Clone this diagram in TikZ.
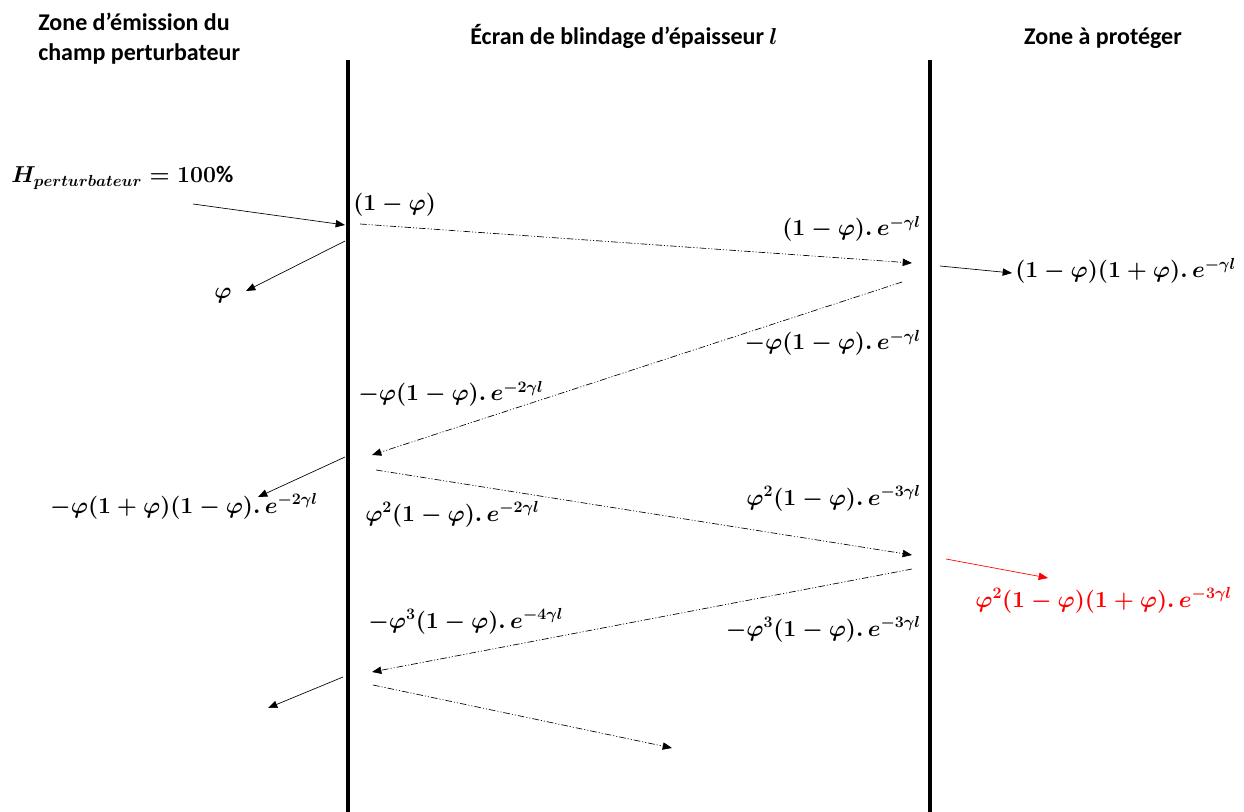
\documentclass[tikz,border=0pt]{standalone}
\usepackage{fontspec}
\setmainfont{Carlito}
\usetikzlibrary{arrows.meta}
\begin{document}
\begin{tikzpicture}[x=0.75pt,y=-0.75pt,
  wall/.style={line width=3pt},
  hdr/.style={font=\fontsize{18}{21}\selectfont\bfseries, inner sep=0pt},
  lab/.style={font=\fontsize{17.7}{20}\selectfont\boldmath, inner sep=0pt},
  ray/.style={line width=0.5pt, -{Triangle[length=7pt,width=5.5pt]}},
  wave/.style={ray, dash pattern=on 5pt off 1.5pt on 0.8pt off 1.5pt on 0.8pt off 1.5pt}]
\useasboundingbox (0,0) rectangle (1244,812);
% walls
\draw[wall] (348,60) -- (348,812);
\draw[wall] (930,60) -- (930,812);
% headers
\node[hdr, anchor=base west] (h1a) at (38,31) {Zone d’émission du};
\node[hdr, anchor=base west] (h1b) at (38,61) {champ perturbateur};
\node[hdr, anchor=base] (h2) at (624,45) {Écran de blindage d’épaisseur {\boldmath$l$}};
\node[hdr, anchor=base] (h3) at (1103,45) {Zone à protéger};
% labels
\node[lab, anchor=base west] (hp) at (11,183) {$H_{perturbateur}=\mathbf{100}\%$};
\node[lab, anchor=base west] (t0) at (353,211) {$(1-\varphi)$};
\node[lab, anchor=base] (r0) at (223,299) {$\varphi$};
\node[lab, anchor=base east] (a1) at (921,236) {$(1-\varphi).\,e^{-\gamma l}$};
\node[lab, anchor=base west] (tr1) at (1015,278) {$(1-\varphi)(1+\varphi).\,e^{-\gamma l}$};
\node[lab, anchor=base east] (b1) at (921,350) {$-\varphi(1-\varphi).\,e^{-\gamma l}$};
\node[lab, anchor=base west] (b2) at (358,401) {$-\varphi(1-\varphi).\,e^{-2\gamma l}$};
\node[lab, anchor=base east] (rf2) at (318,513) {$-\varphi(1+\varphi)(1-\varphi).\,e^{-2\gamma l}$};
\node[lab, anchor=base west] (c2) at (365,521) {$\varphi^2(1-\varphi).\,e^{-2\gamma l}$};
\node[lab, anchor=base east] (c3) at (921,505) {$\varphi^2(1-\varphi).\,e^{-3\gamma l}$};
\node[lab, anchor=base west, text=red] (tr3) at (975,607) {$\varphi^2(1-\varphi)(1+\varphi).\,e^{-3\gamma l}$};
\node[lab, anchor=base east] (d3) at (921,636) {$-\varphi^3(1-\varphi).\,e^{-3\gamma l}$};
\node[lab, anchor=base west] (d4) at (368,628) {$-\varphi^3(1-\varphi).\,e^{-4\gamma l}$};
% arrow end points
\coordinate (inS) at (193,204);  \coordinate (inE) at (345,225);
\coordinate (rS) at (345,241);   \coordinate (rE) at (246,291);
\coordinate (w1S) at (360,224);  \coordinate (w1E) at (912,263);
\coordinate (t1S) at (940,266);  \coordinate (t1E) at (1012,273);
\coordinate (w2S) at (902,282);  \coordinate (w2E) at (372,455);
\coordinate (r2S) at (345,457);  \coordinate (r2E) at (258,497);
\coordinate (w3S) at (376,470);  \coordinate (w3E) at (912,555);
\coordinate (t3S) at (946,559);  \coordinate (t3E) at (1048,578);
\coordinate (w4S) at (912,569);  \coordinate (w4E) at (372,672);
\coordinate (r4S) at (343,677);  \coordinate (r4E) at (268,708);
\coordinate (w5S) at (373,685);  \coordinate (w5E) at (672,748);
% connectors
\draw[ray] (inS) -- (inE);
\draw[ray] (rS) -- (rE);
\draw[wave] (w1S) -- (w1E);
\draw[ray] (t1S) -- (t1E);
\draw[wave] (w2S) -- (w2E);
\draw[ray] (r2S) -- (r2E);
\draw[wave] (w3S) -- (w3E);
\draw[ray, red] (t3S) -- (t3E);
\draw[wave] (w4S) -- (w4E);
\draw[ray] (r4S) -- (r4E);
\draw[wave] (w5S) -- (w5E);
\end{tikzpicture}
\end{document}
